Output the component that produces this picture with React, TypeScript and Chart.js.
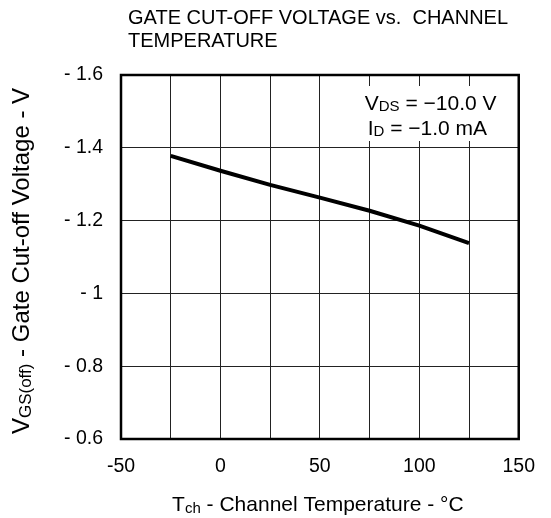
import React, { useEffect, useRef } from 'react';
import { Chart, registerables } from 'chart.js';

Chart.register(...registerables);

// ---- data ----
const temperatures = [-25, 0, 25, 50, 75, 100, 125];
const vgsOff = [-1.378, -1.337, -1.298, -1.263, -1.227, -1.186, -1.138];

const xTicks = [-50, -25, 0, 25, 50, 75, 100, 125, 150];
const xTickLabels = ['-50', '', '0', '', '50', '', '100', '', '150'];
const yTicks = [-1.6, -1.4, -1.2, -1.0, -0.8, -0.6];
const yTickLabels = ['- 1.6', '- 1.4', '- 1.2', '- 1', '- 0.8', '- 0.6'];

const titleLines = ['GATE CUT-OFF VOLTAGE vs.  CHANNEL', 'TEMPERATURE'];
type Part = { t: string; sub?: boolean };
const conditionLines: Part[][] = [
  [{ t: 'V' }, { t: 'DS', sub: true }, { t: ' = \u221210.0 V' }],
  [{ t: 'I' }, { t: 'D', sub: true }, { t: ' = \u22121.0 mA' }],
];
const yTitle: Part[] = [{ t: 'V' }, { t: 'GS(off)', sub: true }, { t: ' - Gate Cut-off Voltage - V' }];
const xTitle: Part[] = [{ t: 'T' }, { t: 'ch', sub: true }, { t: ' - Channel Temperature - \u00B0C' }];

const FAMILY = '"Liberation Sans", Arial, Helvetica, sans-serif';

function richWidth(ctx: CanvasRenderingContext2D, parts: Part[], size: number, subSize: number) {
  let w = 0;
  for (const p of parts) {
    ctx.font = `${p.sub ? subSize : size}px ${FAMILY}`;
    w += ctx.measureText(p.t).width;
  }
  return w;
}

function drawRich(
  ctx: CanvasRenderingContext2D,
  parts: Part[],
  x: number,
  y: number,
  size: number,
  subSize: number,
  subDrop: number
) {
  let cx = x;
  ctx.textAlign = 'left';
  ctx.textBaseline = 'alphabetic';
  for (const p of parts) {
    ctx.font = `${p.sub ? subSize : size}px ${FAMILY}`;
    ctx.fillText(p.t, cx, y + (p.sub ? subDrop : 0));
    cx += ctx.measureText(p.t).width;
  }
}

const decorPlugin = {
  id: 'decor',
  beforeDatasetsDraw(chart: any) {
    const { ctx, chartArea } = chart;
    ctx.save();
    // white box behind conditions text
    ctx.fillStyle = '#ffffff';
    ctx.fillRect(chartArea.right - 160, chartArea.top + 11, 153, 55);
    ctx.fillStyle = '#000000';
    drawRich(ctx, conditionLines[0], chartArea.right - 154, chartArea.top + 35, 21, 15, 1);
    drawRich(ctx, conditionLines[1], chartArea.right - 151, chartArea.top + 60, 21, 15, 1);
    ctx.restore();
  },
  afterDraw(chart: any) {
    const { ctx, chartArea } = chart;
    ctx.save();
    // frame
    ctx.strokeStyle = '#000000';
    ctx.lineWidth = 2.5;
    ctx.strokeRect(chartArea.left, chartArea.top, chartArea.right - chartArea.left, chartArea.bottom - chartArea.top);

    ctx.fillStyle = '#000000';
    // title
    ctx.font = `20px ${FAMILY}`;
    ctx.textAlign = 'left';
    ctx.textBaseline = 'alphabetic';
    ctx.fillText(titleLines[0], chartArea.left + 7, 23.5);
    ctx.fillText(titleLines[1], chartArea.left + 7, 47);

    // x title
    const cxm = (chartArea.left + chartArea.right) / 2;
    const xw = richWidth(ctx, xTitle, 21, 15);
    drawRich(ctx, xTitle, cxm - xw / 2 - 2, 511, 21, 15, 2);

    // y title (rotated)
    const cym = (chartArea.top + chartArea.bottom) / 2 + 4;
    const yw = richWidth(ctx, yTitle, 24, 17);
    ctx.translate(28.5, cym);
    ctx.rotate(-Math.PI / 2);
    drawRich(ctx, yTitle, -yw / 2, 0, 24, 17, 2);
    ctx.restore();
  },
};

export default function App() {
  const canvasRef = useRef<HTMLCanvasElement | null>(null);

  useEffect(() => {
    if (!canvasRef.current) return;
    const chart = new Chart(canvasRef.current, {
      type: 'scatter',
      data: {
        datasets: [
          {
            data: temperatures.map((t, i) => ({ x: t, y: vgsOff[i] })),
            showLine: true,
            borderColor: '#000000',
            borderWidth: 4,
            pointRadius: 0,
            tension: 0,
            fill: false,
          },
        ],
      },
      options: {
        animation: false,
        responsive: false,
        devicePixelRatio: 1,
        layout: { padding: { top: 75, right: 19, left: 0, bottom: 0 } },
        plugins: {
          legend: { display: false },
          title: { display: false },
          tooltip: { enabled: false },
        },
        scales: {
          x: {
            type: 'linear',
            min: -50,
            max: 150,
            afterBuildTicks: (scale: any) => {
              scale.ticks = xTicks.map((v) => ({ value: v }));
            },
            afterFit: (scale: any) => {
              scale.height = 79;
            },
            ticks: {
              autoSkip: false,
              maxRotation: 0,
              padding: 16,
              color: '#000000',
              font: { family: FAMILY, size: 19.5 },
              callback: (_v: any, i: number) => xTickLabels[i],
            },
            grid: { color: '#222222', lineWidth: 1, drawTicks: false },
            border: { display: true, color: '#000000', width: 2 },
          },
          y: {
            type: 'linear',
            min: -1.6,
            max: -0.6,
            reverse: true,
            afterBuildTicks: (scale: any) => {
              scale.ticks = yTicks.map((v) => ({ value: v }));
            },
            afterFit: (scale: any) => {
              scale.width = 121;
            },
            ticks: {
              autoSkip: false,
              padding: 18,
              color: '#000000',
              font: { family: FAMILY, size: 19.5 },
              callback: (_v: any, i: number) => yTickLabels[i],
            },
            grid: { color: '#222222', lineWidth: 1, drawTicks: false },
            border: { display: true, color: '#000000', width: 2 },
          },
        },
      },
      plugins: [decorPlugin],
    });
    return () => chart.destroy();
  }, []);

  return (
    <div style={{ position: 'fixed', left: 0, top: 0, width: 551, height: 518, background: '#ffffff' }}>
      <canvas ref={canvasRef} width={551} height={518} style={{ width: 551, height: 518 }} />
    </div>
  );
}
